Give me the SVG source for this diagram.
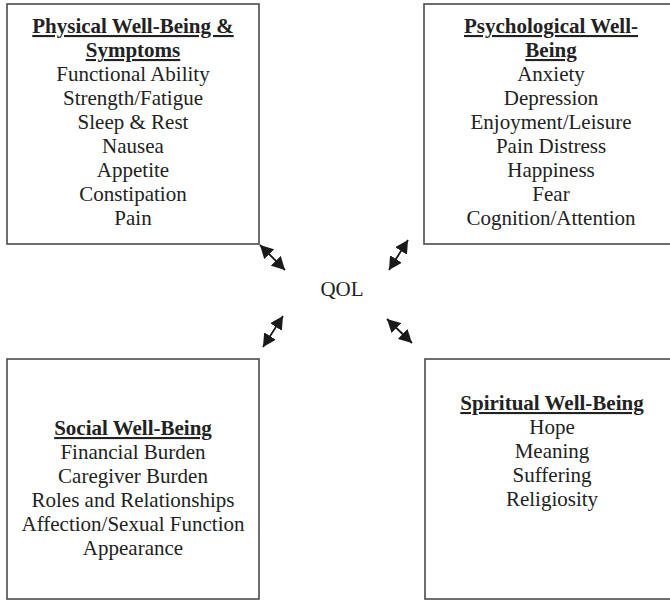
<svg xmlns="http://www.w3.org/2000/svg" width="670" height="600" viewBox="0 0 670 600">
<style>
.box{fill:#fff;stroke:#4a4a4a;stroke-width:1.6}
text{font-family:"Liberation Serif","Times New Roman",serif;font-size:21px;fill:#222;text-anchor:middle}
.h{font-weight:bold;text-decoration:underline;text-decoration-thickness:2px}
.conn{stroke:#1a1a1a;stroke-width:1.8;fill:none}
</style>
<defs>
<marker id="ah" viewBox="0 0 13 14" markerUnits="userSpaceOnUse" markerWidth="13" markerHeight="14" refX="13" refY="7" orient="auto-start-reverse">
<path d="M0,0 L13,7 L0,14 z" fill="#1a1a1a"/>
</marker>
</defs>
<rect width="670" height="600" fill="#fff"/>
<g id="physical">
<rect class="box" x="7" y="4" width="252" height="240"/>
<text class="h" x="133" y="33">Physical Well-Being &amp;</text>
<text class="h" x="133" y="57">Symptoms</text>
<text x="133" y="81">Functional Ability</text>
<text x="133" y="105">Strength/Fatigue</text>
<text x="133" y="129">Sleep &amp; Rest</text>
<text x="133" y="153">Nausea</text>
<text x="133" y="177">Appetite</text>
<text x="133" y="201">Constipation</text>
<text x="133" y="225">Pain</text>
</g>
<g id="psychological">
<rect class="box" x="424" y="4" width="253" height="240"/>
<text class="h" x="551" y="33">Psychological Well-</text>
<text class="h" x="551" y="57">Being</text>
<text x="551" y="81">Anxiety</text>
<text x="551" y="105">Depression</text>
<text x="551" y="129">Enjoyment/Leisure</text>
<text x="551" y="153">Pain Distress</text>
<text x="551" y="177">Happiness</text>
<text x="551" y="201">Fear</text>
<text x="551" y="225">Cognition/Attention</text>
</g>
<g id="qol">
<text x="342" y="296">QOL</text>
</g>
<g id="social">
<rect class="box" x="7" y="359" width="252" height="240"/>
<text class="h" x="133" y="435">Social Well-Being</text>
<text x="133" y="459">Financial Burden</text>
<text x="133" y="483">Caregiver Burden</text>
<text x="133" y="507">Roles and Relationships</text>
<text x="133" y="531">Affection/Sexual Function</text>
<text x="133" y="555">Appearance</text>
</g>
<g id="spiritual">
<rect class="box" x="425" y="359" width="253" height="240"/>
<text class="h" x="552" y="410">Spiritual Well-Being</text>
<text x="552" y="434">Hope</text>
<text x="552" y="458">Meaning</text>
<text x="552" y="482">Suffering</text>
<text x="552" y="506">Religiosity</text>
</g>
<g id="connectors">
<line class="conn" x1="260" y1="245" x2="285" y2="270" marker-start="url(#ah)" marker-end="url(#ah)"/>
<line class="conn" x1="408" y1="240" x2="389" y2="270" marker-start="url(#ah)" marker-end="url(#ah)"/>
<line class="conn" x1="283" y1="316" x2="263" y2="347" marker-start="url(#ah)" marker-end="url(#ah)"/>
<line class="conn" x1="387" y1="319" x2="412" y2="343" marker-start="url(#ah)" marker-end="url(#ah)"/>
</g>
</svg>
